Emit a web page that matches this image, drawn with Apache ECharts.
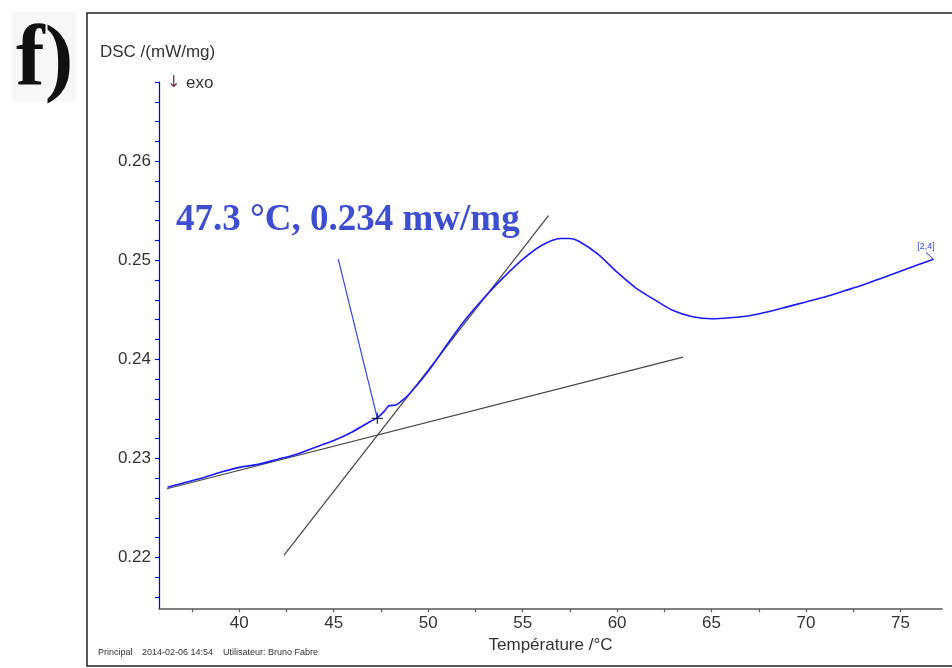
<!DOCTYPE html>
<html>
<head>
<meta charset="utf-8">
<script src="https://cdn.jsdelivr.net/npm/echarts@6/dist/echarts.min.js"></script>
<style>
html,body{margin:0;padding:0;background:#fff;}
#chart{width:952px;height:668px;}
</style>
</head>
<body>
<div id="chart"></div>
<script>
// ---- data ----
const temps = [36.2, 37, 38, 39, 40, 41, 42, 43, 44, 45, 46, 47, 47.3, 47.7, 47.9, 48.3, 48.6, 49, 50, 51, 52, 53, 54, 55, 56, 57, 57.5, 58, 59, 60, 61, 62, 63, 64, 65, 66, 67, 68, 69, 70, 71, 72, 73, 74, 75, 76, 76.75];
const dsc = [0.2271, 0.2275, 0.2280, 0.2286, 0.2291, 0.2294, 0.2299, 0.2304, 0.2311, 0.2318, 0.2327, 0.2338, 0.2341, 0.2348, 0.2353, 0.2354, 0.2358, 0.2365, 0.2388, 0.2415, 0.2441, 0.2463, 0.2483, 0.2501, 0.2515, 0.2522, 0.2522, 0.2519, 0.2506, 0.2488, 0.2472, 0.2460, 0.2449, 0.2443, 0.2441, 0.2442, 0.2444, 0.2448, 0.2453, 0.2458, 0.2463, 0.2469, 0.2475, 0.2482, 0.2489, 0.2496, 0.2501];

const baselineX = [36.17, 63.49];
const baselineY = [0.22694, 0.24022];
const tangentX = [42.37, 56.37];
const tangentY = [0.22023, 0.25451];
const pointerX = [45.24, 47.31];
const pointerY = [0.25013, 0.23405];
const onsetX = 47.31, onsetY = 0.23405;
const tagX = [76.35, 76.76];
const tagY = [0.2508, 0.2501];
const tagText = '[2,4]';

const xLabelValues = [40, 45, 50, 55, 60, 65, 70, 75];
const xTickValues = [37.5, 40, 42.5, 45, 47.5, 50, 52.5, 55, 57.5, 60, 62.5, 65, 67.5, 70, 72.5, 75];
const yLabelValues = [0.22, 0.23, 0.24, 0.25, 0.26];
const yTickValues = [0.216, 0.218, 0.22, 0.222, 0.224, 0.226, 0.228, 0.23, 0.232, 0.234, 0.236, 0.238, 0.24, 0.242, 0.244, 0.246, 0.248, 0.25, 0.252, 0.254, 0.256, 0.258, 0.26, 0.262, 0.264, 0.266, 0.268];

const annotationText = '47.3 °C, 0.234 mw/mg';
const yAxisTitle = 'DSC /(mW/mg)';
const xAxisTitle = 'Température /°C';
const panelLetter = 'f)';
const footer = ['Principal', '2014-02-06 14:54', 'Utilisateur: Bruno Fabre'];

const pair = (xs, ys) => xs.map((x, i) => [x, ys[i]]);

const chart = echarts.init(document.getElementById('chart'), null, {renderer: 'canvas'});
const SANS = 'Liberation Sans, Arial, sans-serif';
const SERIF = 'Liberation Serif, Times New Roman, serif';

chart.setOption({
  animation: false,
  backgroundColor: '#fff',
  grid: {left: 159, right: 10, top: 82, bottom: 59, containLabel: false},
  xAxis: {
    type: 'value', min: 35.75, max: 77.2,
    axisLine: {onZero: false, lineStyle: {color: '#555', width: 1.5}},
    axisTick: {show: true, customValues: xTickValues, length: 3, lineStyle: {color: '#555', width: 1.2}},
    axisLabel: {customValues: xLabelValues, color: '#333', fontSize: 17, fontFamily: SANS, margin: 6},
    splitLine: {show: false},
    name: xAxisTitle, nameLocation: 'middle', nameGap: 20,
    nameTextStyle: {color: '#333', fontSize: 17, fontFamily: SANS}
  },
  yAxis: {
    type: 'value', min: 0.2148, max: 0.268,
    axisLine: {show: true, onZero: false, lineStyle: {color: '#0000ff', width: 1.2}},
    axisTick: {show: true, customValues: yTickValues, length: 4, lineStyle: {color: '#0000ff', width: 1.2}},
    axisLabel: {customValues: yLabelValues, formatter: v => v.toFixed(2), color: '#333', fontSize: 17, fontFamily: SANS, margin: 8},
    splitLine: {show: false}
  },
  series: [
    {
      type: 'line', data: pair(tangentX, tangentY), showSymbol: false, silent: true,
      lineStyle: {color: '#444', width: 1.2}, z: 2
    },
    {
      type: 'line', data: pair(baselineX, baselineY), showSymbol: false, silent: true,
      lineStyle: {color: '#444', width: 1.2}, z: 2
    },
    {
      type: 'line', data: pair(temps, dsc), showSymbol: false, smooth: 0.25,
      lineStyle: {color: '#1a1aff', width: 1.6}, z: 3
    },
    {
      type: 'line', data: pair(pointerX, pointerY), showSymbol: false,
      lineStyle: {color: '#3344ee', width: 1.2}, z: 4
    },
    {
      type: 'scatter', data: [[onsetX, onsetY]],
      symbol: 'path://M4.4,0H5.6V10H4.4ZM0,4.4H10V5.6H0Z', symbolSize: 11,
      itemStyle: {color: '#000'}, z: 5
    },
    {
      type: 'line', showSymbol: true, symbol: 'circle', symbolSize: 0, z: 4,
      lineStyle: {color: '#3344ee', width: 1},
      itemStyle: {color: '#3344ee'},
      data: [
        {value: [tagX[0], tagY[0]], label: {show: true, formatter: tagText, position: 'top', distance: 1, color: '#3344ee', fontSize: 9, fontFamily: SANS}},
        {value: [tagX[1], tagY[1]]}
      ],
      label: {show: false}
    }
  ],
  graphic: [
    {type: 'rect', shape: {x: 87, y: 13, width: 900, height: 653}, style: {fill: 'none', stroke: '#222', lineWidth: 1.5}, z: 0, silent: true},
    {type: 'rect', shape: {x: 12, y: 12, width: 64, height: 90}, style: {fill: '#f7f7f7'}, z: 0, silent: true},
    {type: 'text', x: 16, y: 63, style: {text: panelLetter, fill: '#111', font: 'bold 86px ' + SERIF, verticalAlign: 'middle'}, z: 10},
    {type: 'text', x: 100, y: 52, style: {text: yAxisTitle, fill: '#333', font: '17px ' + SANS, verticalAlign: 'middle'}, z: 10},
    {type: 'text', x: 167, y: 83, style: {text: '↓', fill: '#7a3050', font: '16px ' + 'DejaVu Sans, sans-serif', verticalAlign: 'middle'}, z: 10},
    {type: 'text', x: 186, y: 83, style: {text: 'exo', fill: '#333', font: '17px ' + SANS, verticalAlign: 'middle'}, z: 10},
    {type: 'text', x: 176, y: 220, style: {text: annotationText, fill: '#3d4fd0', font: 'bold 37px ' + SERIF, verticalAlign: 'middle'}, z: 10},
    {type: 'text', x: 98, y: 653, style: {text: footer[0], fill: '#333', font: '9px ' + SANS, verticalAlign: 'middle'}, z: 10},
    {type: 'text', x: 142, y: 653, style: {text: footer[1], fill: '#333', font: '9px ' + SANS, verticalAlign: 'middle'}, z: 10},
    {type: 'text', x: 223, y: 653, style: {text: footer[2], fill: '#333', font: '9px ' + SANS, verticalAlign: 'middle'}, z: 10}
  ]
});
</script>
</body>
</html>
